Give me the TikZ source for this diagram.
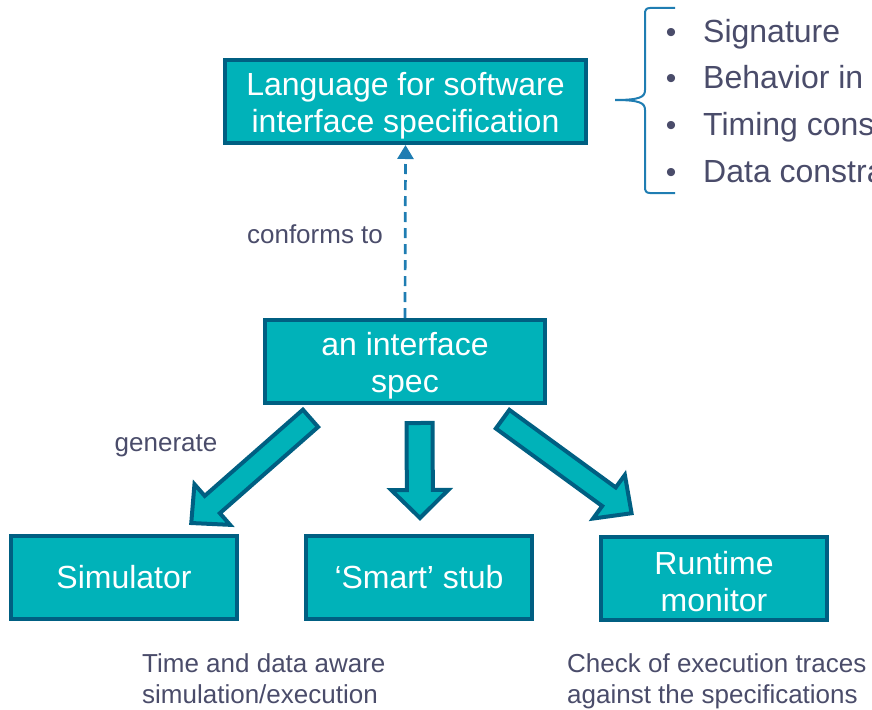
\documentclass[tikz,border=0pt]{standalone}
\usepackage{fontspec}
\setmainfont{Liberation Sans}
\usetikzlibrary{arrows.meta,calc}

\definecolor{tealfill}{HTML}{00B2B9}
\definecolor{tealedge}{HTML}{005F82}
\definecolor{linkblue}{HTML}{1F7DB2}
\definecolor{notegray}{HTML}{4A4C6A}

\tikzset{
  box/.style={draw=tealedge, fill=tealfill, line width=4pt, text=white,
    font=\fontsize{32}{37}\selectfont, align=center, inner sep=0pt,
    minimum height=83pt},
  blockarrow/.style={draw=tealedge, fill=tealfill, line width=4pt, line join=miter},
  note/.style={text=notegray, font=\fontsize{26}{31}\selectfont, inner sep=0pt},
  bullettext/.style={text=notegray, font=\fontsize{32}{37}\selectfont, inner sep=0pt},
  conform/.style={draw=linkblue, line width=2.7pt, dash pattern=on 10pt off 6pt,
    -{Triangle[width=16pt,length=14pt]}},
  bracestyle/.style={draw=linkblue, line width=2pt},
}

% taller first line, so that two-line labels sit a little lower in their box
\newcommand\firstline{\rule{0pt}{31pt}}

% Thick block arrow from #1 to the tip #2; #3 = shaft half-width, #4 = head half-width
\newcommand\genarrow[4]{%
  \path let \p1=(#1), \p2=(#2) in \pgfextra{%
    \pgfmathsetmacro\gaAng{atan2(\y2-\y1,\x2-\x1)}%
    \pgfmathsetmacro\gaLen{veclen(\x2-\x1,\y2-\y1)}%
    \global\let\gaAng\gaAng\global\let\gaLen\gaLen};
  \begin{scope}[shift={(#1)}, rotate=\gaAng]
    \draw[blockarrow] (2,-#3) -- (\gaLen-31,-#3) -- (\gaLen-31,-#4) -- (\gaLen-3,0)
      -- (\gaLen-31,#4) -- (\gaLen-31,#3) -- (2,#3) -- cycle;
  \end{scope}}

\begin{document}
\begin{tikzpicture}[x=1pt,y=-1pt]
\useasboundingbox (0,0) rectangle (872,709);

% boxes
\node[box, minimum width=361pt] (lang) at (405.5,101.5) {\firstline Language for software\\interface specification};
\node[box, minimum width=280pt] (spec) at (405,361.5) {\firstline an interface\\spec};
\node[box, minimum width=226pt] (sim)  at (124,577.5) {Simulator};
\node[box, minimum width=226pt] (stub) at (419,577.5) {`Smart' stub};
\node[box, minimum width=226pt] (mon)  at (714,578) {\firstline Runtime\\monitor};

% conformance link
\draw[conform] (spec.north) -- (lang.south);
\node[note] (conf) at (315,234) {conforms to};

% generation arrows
\coordinate (gL0) at (312,417);   \coordinate (gL1) at (189,525);
\coordinate (gM0) at (419.5,421); \coordinate (gM1) at (420,521);
\coordinate (gR0) at (501,418);   \coordinate (gR1) at (634,515);
\genarrow{gL0}{gL1}{11.5}{27}
\genarrow{gM0}{gM1}{13}{28.5}
\genarrow{gR0}{gR1}{11.5}{27}
\node[note] (gen) at (166,446) {generate};

% captions under the boxes
\node[note, anchor=north west, align=left] (capsim) at (142,653) {Time and data aware\\simulation/execution};
\node[note, anchor=north west, align=left] (capmon) at (567,653) {Check of execution traces\\against the specifications};

% brace and bullet list
\draw[bracestyle] (675,8) -- (650,8) .. controls (646,8) and (645,10) .. (645,14)
  -- (645,90) .. controls (645,97) and (640,100) .. (615,100)
  .. controls (640,100) and (645,103) .. (645,110)
  -- (645,187) .. controls (645,191) and (646,193) .. (650,193) -- (675,193);
\foreach \t [count=\i] in {Signature, Behavior in, Timing cons, Data constra}{
  \node[bullettext, anchor=base] (dot\i) at (671,{42+46.7*(\i-1)}) {\fontsize{30}{30}\selectfont\textbullet};
  \node[bullettext, anchor=base west] (item\i) at (703,{42+46.7*(\i-1)}) {\t};
}
\end{tikzpicture}
\end{document}
